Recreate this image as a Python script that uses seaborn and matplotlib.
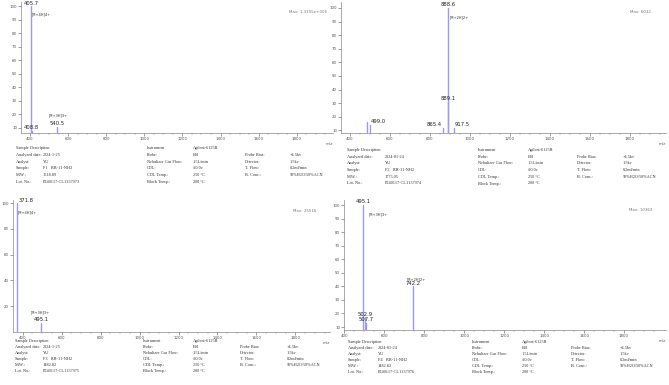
import pandas as pd
import matplotlib
matplotlib.use("Agg")
import matplotlib.pyplot as plt
import seaborn as sns

# ---- spectra data (m/z, relative intensity, label) ----
f1_mz = [405.7, 408.8, 540.6]
f1_int = [100, 8, 11]
f1_lab = ["405.7", "408.8", "540.5"]

f2_mz = [485.0, 499.0, 865.4, 888.6, 889.1, 917.5]
f2_int = [16, 14, 12, 100, 31, 12]
f2_lab = ["", "499.0", "865.4", "888.6", "889.1", "917.5"]

f3_mz = [371.8, 495.1]
f3_int = [100, 7]
f3_lab = ["371.8", "495.1"]

f4_mz = [495.1, 502.9, 507.7, 742.2]
f4_int = [100, 17, 13, 40]
f4_lab = ["495.1", "502.9", "507.7", "742.2"]

max_text = ["Max: 1.3155e+006", "Max: 6032", "Max: 25516", "Max: 10363"]

# ---- sample tables ----
dates = ["2024-1-25", "2024-01-24", "2024-1-25", "2024-01-24"]
samples = ["F1   RR-11-NH2", "F2   RR-11-NH2", "F3   RR-11-NH2", "F4   RR-11-NH2"]
mws = ["1618.89", "1775.05", "1482.82", "1482.82"]
lots = ["P240117-CL1137973", "P240117-CL1137974", "P240117-CL1137975", "P240117-CL1137976"]

left_keys = ["Analyzed date:", "Analyst:", "Sample:", "M.W.:", "Lot. No.:"]
mid_keys = ["Probe:", "Nebulizer Gas Flow:", "CDL:", "CDL Temp.:", "Block Temp.:"]
mid_vals = ["ESI", "1.5L/min", "-20.0v", "250 \u00b0C", "200 \u00b0C"]
right_keys = ["Probe Bias:", "Detector:", "T. Flow:", "B. Conc.:"]
right_vals = ["+4.5kv", "1.5kv", "0.2ml/min", "50%H2O/50%ACN"]

ion_notes = [
    [("[M+4H]4+", 412, 94), ("[M+3H]3+", 500, 19.5)],
    [("[M+2H]2+", 900, 93)],
    [("[M+4H]4+", 375, 93), ("[M+3H]3+", 440, 15)],
    [("[M+3H]3+", 520, 93), ("[M+2H]2+", 710, 45)],
]

# label alignment per peak (c = centred, l = right of line, r = left of line)
label_side = [
    ["c", "c", "c"],
    ["l", "l", "r", "c", "c", "l"],
    ["l", "c"],
    ["c", "c", "c", "c"],
]

W, H = 669, 385
sns.set_theme(style="ticks")
plt.rcParams["font.family"] = ["Liberation Sans Narrow", "DejaVu Sans"]

fig = plt.figure(figsize=(W / 100, H / 100), dpi=100)
fig.patch.set_facecolor("white")


def px_axes(l, t, r, b):
    return fig.add_axes([l / W, 1 - b / H, (r - l) / W, (b - t) / H])


panels = [
    dict(box=(21, 2, 333, 133), xlim=(353, 1990), ylim=(6.3, 103), ystep=10,
         mz=f1_mz, inten=f1_int, lab=f1_lab, tab_top=148, pitch=6.8,
         cols=(16, 43, 147, 193, 245, 290)),
    dict(box=(341, 2, 666, 133), xlim=(355, 1980), ylim=(8, 104.4), ystep=10,
         mz=f2_mz, inten=f2_int, lab=f2_lab, tab_top=150, pitch=6.7,
         cols=(347, 385, 478, 528, 577, 623)),
    dict(box=(13, 200, 330, 332), xlim=(350, 1978), ylim=(0, 102.5), ystep=20,
         mz=f3_mz, inten=f3_int, lab=f3_lab, tab_top=341, pitch=6.0,
         cols=(15, 43, 143, 193, 240, 287)),
    dict(box=(344, 200, 666, 330), xlim=(398, 2010), ylim=(7.8, 103.7), ystep=10,
         mz=f4_mz, inten=f4_int, lab=f4_lab, tab_top=342, pitch=6.0,
         cols=(348, 378, 472, 522, 571, 620)),
]

peak_color = "#9a9af2"
tab_font = ["Liberation Serif", "DejaVu Serif"]
align = {"c": ("center", 0), "l": ("left", 0.8), "r": ("right", -0.8)}

for i, p in enumerate(panels):
    ax = px_axes(*p["box"])
    rows = []
    for k, (m, v) in enumerate(zip(p["mz"], p["inten"])):
        rows.append({"mz": m, "intensity": -5, "peak": k})
        rows.append({"mz": m, "intensity": v, "peak": k})
    df = pd.DataFrame(rows)
    sns.lineplot(data=df, x="mz", y="intensity", units="peak", estimator=None,
                 sort=False, color=peak_color, lw=1.0, ax=ax, legend=False)

    ax.set_xlim(*p["xlim"])
    ax.set_ylim(*p["ylim"])
    ax.set_xlabel("")
    ax.set_ylabel("")
    ax.set_xticks(range(400, 1801, 200))
    ax.set_xticks(range(400, 2000, 50), minor=True)
    ax.set_yticks(range(p["ystep"], 101, p["ystep"]))
    ax.tick_params(axis="both", labelsize=2.9, colors="#555555", length=2, width=0.4, pad=0.8)
    ax.tick_params(axis="both", which="minor", length=1.2, width=0.3, colors="#888888")
    for s in ["top", "right"]:
        ax.spines[s].set_visible(False)
    for s in ["left", "bottom"]:
        ax.spines[s].set_color("#888888")
        ax.spines[s].set_linewidth(0.5)
    ax.set_facecolor("white")

    ax.text(1.0, -0.07, "m/z", transform=ax.transAxes, fontsize=2.9, color="#555555",
            ha="right", va="top")
    ax.text(0.92, 0.92, max_text[i], transform=ax.transAxes, fontsize=2.9,
            color="#777777", ha="center", va="center")

    for m, v, lb, sd in zip(p["mz"], p["inten"], p["lab"], label_side[i]):
        if lb:
            ha, dx = align[sd]
            ax.annotate(lb, (m, v), xytext=(dx, 0.4), textcoords="offset points",
                        ha=ha, va="bottom", fontsize=3.8, color="#222222",
                        annotation_clip=False)
    for txt, xm, yv in ion_notes[i]:
        ax.text(xm, yv, txt, fontsize=2.6, color="#333333", ha="left", va="center")

    # sample table below the spectrum
    c0, c1, c2, c3, c4, c5 = p["cols"]
    y0 = p["tab_top"]
    pitch = p["pitch"]

    def put(x, row, s):
        fig.text(x / W, 1 - (y0 + row * pitch) / H, s, fontsize=3.1, color="#333333",
                 ha="left", va="center", family=tab_font)

    put(c0, 0, "Sample Description")
    put(c2, 0, "Instrument")
    put(c3, 0, "Agilent-6125B")
    left_vals = [dates[i], "YU", samples[i], mws[i], lots[i]]
    for r in range(5):
        put(c0, r + 1, left_keys[r])
        put(c1, r + 1, left_vals[r])
        put(c2, r + 1, mid_keys[r])
        put(c3, r + 1, mid_vals[r])
        if r < 4:
            put(c4, r + 1, right_keys[r])
            put(c5, r + 1, right_vals[r])

fig.savefig("out.png", dpi=100, facecolor="white")
